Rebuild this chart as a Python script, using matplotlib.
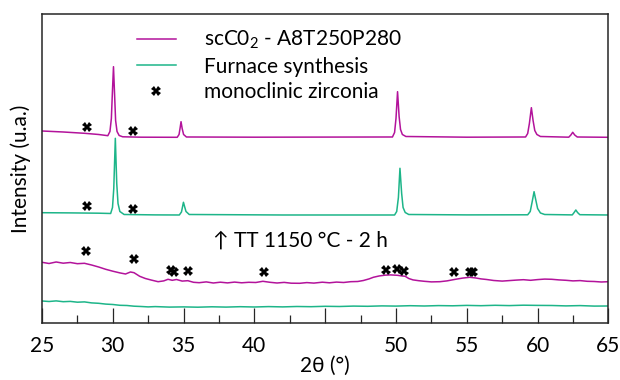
import numpy as np
import matplotlib
matplotlib.use('Agg')
import matplotlib.pyplot as plt
from matplotlib.lines import Line2D

plt.rcParams['font.family'] = ['Lato', 'DejaVu Sans']
plt.rcParams['mathtext.fontset'] = 'custom'
plt.rcParams['mathtext.rm'] = 'Lato'
plt.rcParams['mathtext.it'] = 'Lato:italic'

MAGENTA = '#b3139b'
GREEN = '#1db589'

# scCO2 sample, as prepared (offset trace)
sc_x = [25.0, 26.5, 28.0, 29.0, 29.65, 29.8, 29.9, 29.97, 30.05, 30.13, 30.2, 30.3, 30.45, 30.7,
        32.0, 34.55, 34.68, 34.76, 34.82, 34.9, 35.0, 35.2, 40.0, 49.75, 49.9, 50.0, 50.11,
        50.22, 50.32, 50.45, 50.7, 55.0, 59.15, 59.3, 59.42, 59.56, 59.68, 59.8, 59.95, 60.2,
        62.2, 62.35, 62.48, 62.62, 62.8, 65.0]
sc_y = [192.5, 191.5, 190.2, 189.0, 187.8, 192.0, 205.0, 230.0, 256.8, 228.0, 203.0, 192.0, 188.0, 186.7,
        186.3, 186.2, 189.0, 196.0, 201.8, 195.0, 189.0, 186.5, 186.3, 186.5, 191.0, 205.0, 231.8,
        207.0, 194.0, 189.0, 187.0, 186.3, 186.5, 190.0, 200.0, 215.8, 203.0, 193.0, 189.0, 187.0,
        186.3, 188.5, 191.2, 188.5, 186.5, 186.2]

# furnace synthesis, as prepared (offset trace)
fu_x = [25.0, 27.0, 29.0, 29.85, 29.98, 30.07, 30.18, 30.28, 30.37, 30.5, 30.8, 33.0, 34.7, 34.85,
        34.93, 34.99, 35.07, 35.17, 35.4, 42.0, 49.9, 50.05, 50.17, 50.28, 50.4, 50.5, 50.65, 50.9,
        55.0, 59.3, 59.48, 59.62, 59.75, 59.88, 60.0, 60.2, 60.5, 62.45, 62.58, 62.7, 62.82, 62.98,
        65.0]
fu_y = [110.8, 110.6, 110.3, 110.0, 116.0, 135.0, 185.2, 140.0, 120.0, 112.0, 109.0, 108.6, 108.5, 111.5,
        117.0, 121.2, 117.0, 112.0, 109.0, 108.5, 108.5, 112.0, 126.0, 155.2, 130.0, 116.0, 111.0, 109.0,
        108.6, 108.7, 112.0, 122.0, 131.8, 123.0, 115.0, 110.5, 109.0, 108.6, 111.0, 113.5, 111.0, 108.8,
        108.5]

# scCO2 sample after TT 1150 °C - 2 h
sc_tt_x = [25.0, 25.5, 26.0, 26.5, 27.0, 27.5, 28.0, 28.5, 29.0, 29.5, 30.0, 30.5, 30.9, 31.25, 31.5,
           31.9, 32.3, 32.7, 33.2, 33.6, 33.9, 34.2, 34.5, 34.9, 35.3, 35.7, 36.1, 36.6, 37.1, 37.6,
           38.1, 38.6, 39.1, 39.6, 40.1, 40.6, 41.1, 41.6, 42.1, 42.6, 43.2, 43.7, 44.2, 44.8, 45.3,
           45.8, 46.3, 46.8, 47.3, 47.7, 48.1, 48.4, 48.8, 49.2, 49.6, 50.1, 50.4, 50.65, 50.9, 51.2,
           51.6, 52.0, 52.5, 53.1, 53.6, 54.2, 54.7, 55.2, 55.6, 56.0, 56.4, 56.9, 57.5, 58.0, 58.5,
           59.0, 59.5, 60.0, 60.5, 61.0, 61.5, 62.0, 62.5, 63.0, 63.5, 64.0, 64.5, 65.0]
sc_tt_y = [61.2, 60.0, 61.5, 60.3, 61.0, 59.8, 60.2, 58.5, 56.5, 54.2, 52.3, 50.6, 49.5, 51.5, 50.8,
           47.2, 45.0, 43.5, 41.8, 42.6, 44.2, 43.2, 44.0, 42.4, 42.8, 41.2, 40.8, 41.6, 40.5, 41.3,
           40.6, 41.4, 40.7, 41.2, 41.0, 42.2, 41.2, 40.5, 41.1, 40.3, 40.2, 40.9, 40.4, 41.3, 40.7,
           41.4, 41.0, 41.8, 42.0, 43.0, 44.6, 46.2, 47.5, 48.3, 48.6, 48.2, 47.6, 47.2, 45.0, 43.6,
           42.8, 42.2, 41.6, 41.8, 42.6, 44.2, 45.4, 46.2, 45.6, 44.6, 44.0, 43.0, 42.4, 42.9, 43.4,
           43.8, 43.2, 43.9, 44.4, 44.2, 43.6, 43.2, 42.6, 42.9, 42.2, 42.0, 41.5, 41.8]

# furnace synthesis after TT 1150 °C - 2 h
fu_tt_x = [25.0, 25.5, 26.0, 26.5, 27.0, 27.5, 28.0, 28.5, 29.0, 29.5, 30.0, 30.5, 31.0, 31.5, 32.0,
           32.5, 33.0, 34.0, 35.0, 36.0, 37.0, 38.0, 39.0, 40.0, 41.0, 42.0, 43.0, 44.0, 45.0, 46.0,
           47.0, 48.0, 49.0, 50.0, 51.0, 52.0, 53.0, 54.0, 55.0, 56.0, 57.0, 58.0, 59.0, 60.0, 61.0,
           62.0, 63.0, 64.0, 65.0]
fu_tt_y = [22.5, 22.0, 22.6, 21.8, 22.1, 21.3, 21.6, 20.6, 20.2, 19.4, 19.0, 18.2, 18.0, 17.3, 17.0,
           16.6, 16.9, 16.4, 16.6, 16.3, 16.7, 16.4, 16.8, 16.5, 16.9, 16.6, 17.0, 16.8, 17.2, 17.0,
           17.4, 17.2, 17.6, 17.4, 17.8, 17.5, 17.9, 17.7, 18.1, 17.8, 18.2, 17.9, 18.3, 18.1, 18.0,
           17.6, 17.9, 17.4, 17.5]

# monoclinic zirconia reflections
mono_x = [28.16, 31.45, 28.16, 31.45, 28.13, 31.48, 34.1, 34.33, 35.33, 40.7, 49.28, 50.1, 50.6,
          54.1, 55.2, 55.45]
mono_y = [196.2, 192.8, 117.8, 114.2, 72.5, 64.2, 53.5, 51.8, 52.5, 51.8, 53.5, 54.5, 52.5,
          51.8, 51.8, 51.8]

xtick_pos = [25, 30, 35, 40, 45, 50, 55, 60, 65]
xtick_labels = ['25', '30', '35', '40', '', '50', '55', '60', '65']

fig = plt.figure(figsize=(6.2, 3.8), dpi=100)
ax = fig.add_axes([0.0677, 0.1487, 0.9136, 0.8137])

ax.plot(sc_x, sc_y, color=MAGENTA, lw=1.1)
ax.plot(fu_x, fu_y, color=GREEN, lw=1.1)
ax.plot(sc_tt_x, sc_tt_y, color=MAGENTA, lw=1.1)
ax.plot(fu_tt_x, fu_tt_y, color=GREEN, lw=1.1)
ax.plot(mono_x, mono_y, ls='none', marker='X', ms=6.5, color='black', mew=0)

ax.text(37.08, 82.5, '↑ TT 1150 °C - 2 h', fontsize=15, va='center', ha='left',
        family=['Lato', 'DejaVu Sans'])

ax.set_xlim(25, 65)
ax.set_ylim(0, 309.2)
ax.set_xticks(xtick_pos)
ax.set_xticklabels(xtick_labels)
ax.set_xticks(np.arange(27.5, 65, 5), minor=True)
ax.set_yticks([])
ax.tick_params(axis='x', which='major', direction='in', length=11, width=0.9, pad=9,
               labelsize=15, color='#262626')
ax.tick_params(axis='x', which='minor', direction='in', length=6, width=0.9, color='#262626')
for s in ax.spines.values():
    s.set_linewidth(1.1)
    s.set_color('#262626')

ax.set_xlabel('2θ (°)', fontsize=15, labelpad=0)
ax.set_ylabel('Intensity (u.a.)', fontsize=15, labelpad=8)

handles = [Line2D([], [], color=MAGENTA, lw=1.1),
           Line2D([], [], color=GREEN, lw=1.1),
           Line2D([], [], ls='none', marker='X', ms=6.5, color='black', mew=0)]
labels = ['scC0$_2$ - A8T250P280', 'Furnace synthesis', 'monoclinic zirconia']
ax.legend(handles, labels, loc='upper left', bbox_to_anchor=(0.168, 0.952), frameon=False,
          fontsize=15, handlelength=1.85, handletextpad=1.35, labelspacing=0.25,
          borderpad=0, borderaxespad=0)

fig.savefig('out.png', dpi=100)
